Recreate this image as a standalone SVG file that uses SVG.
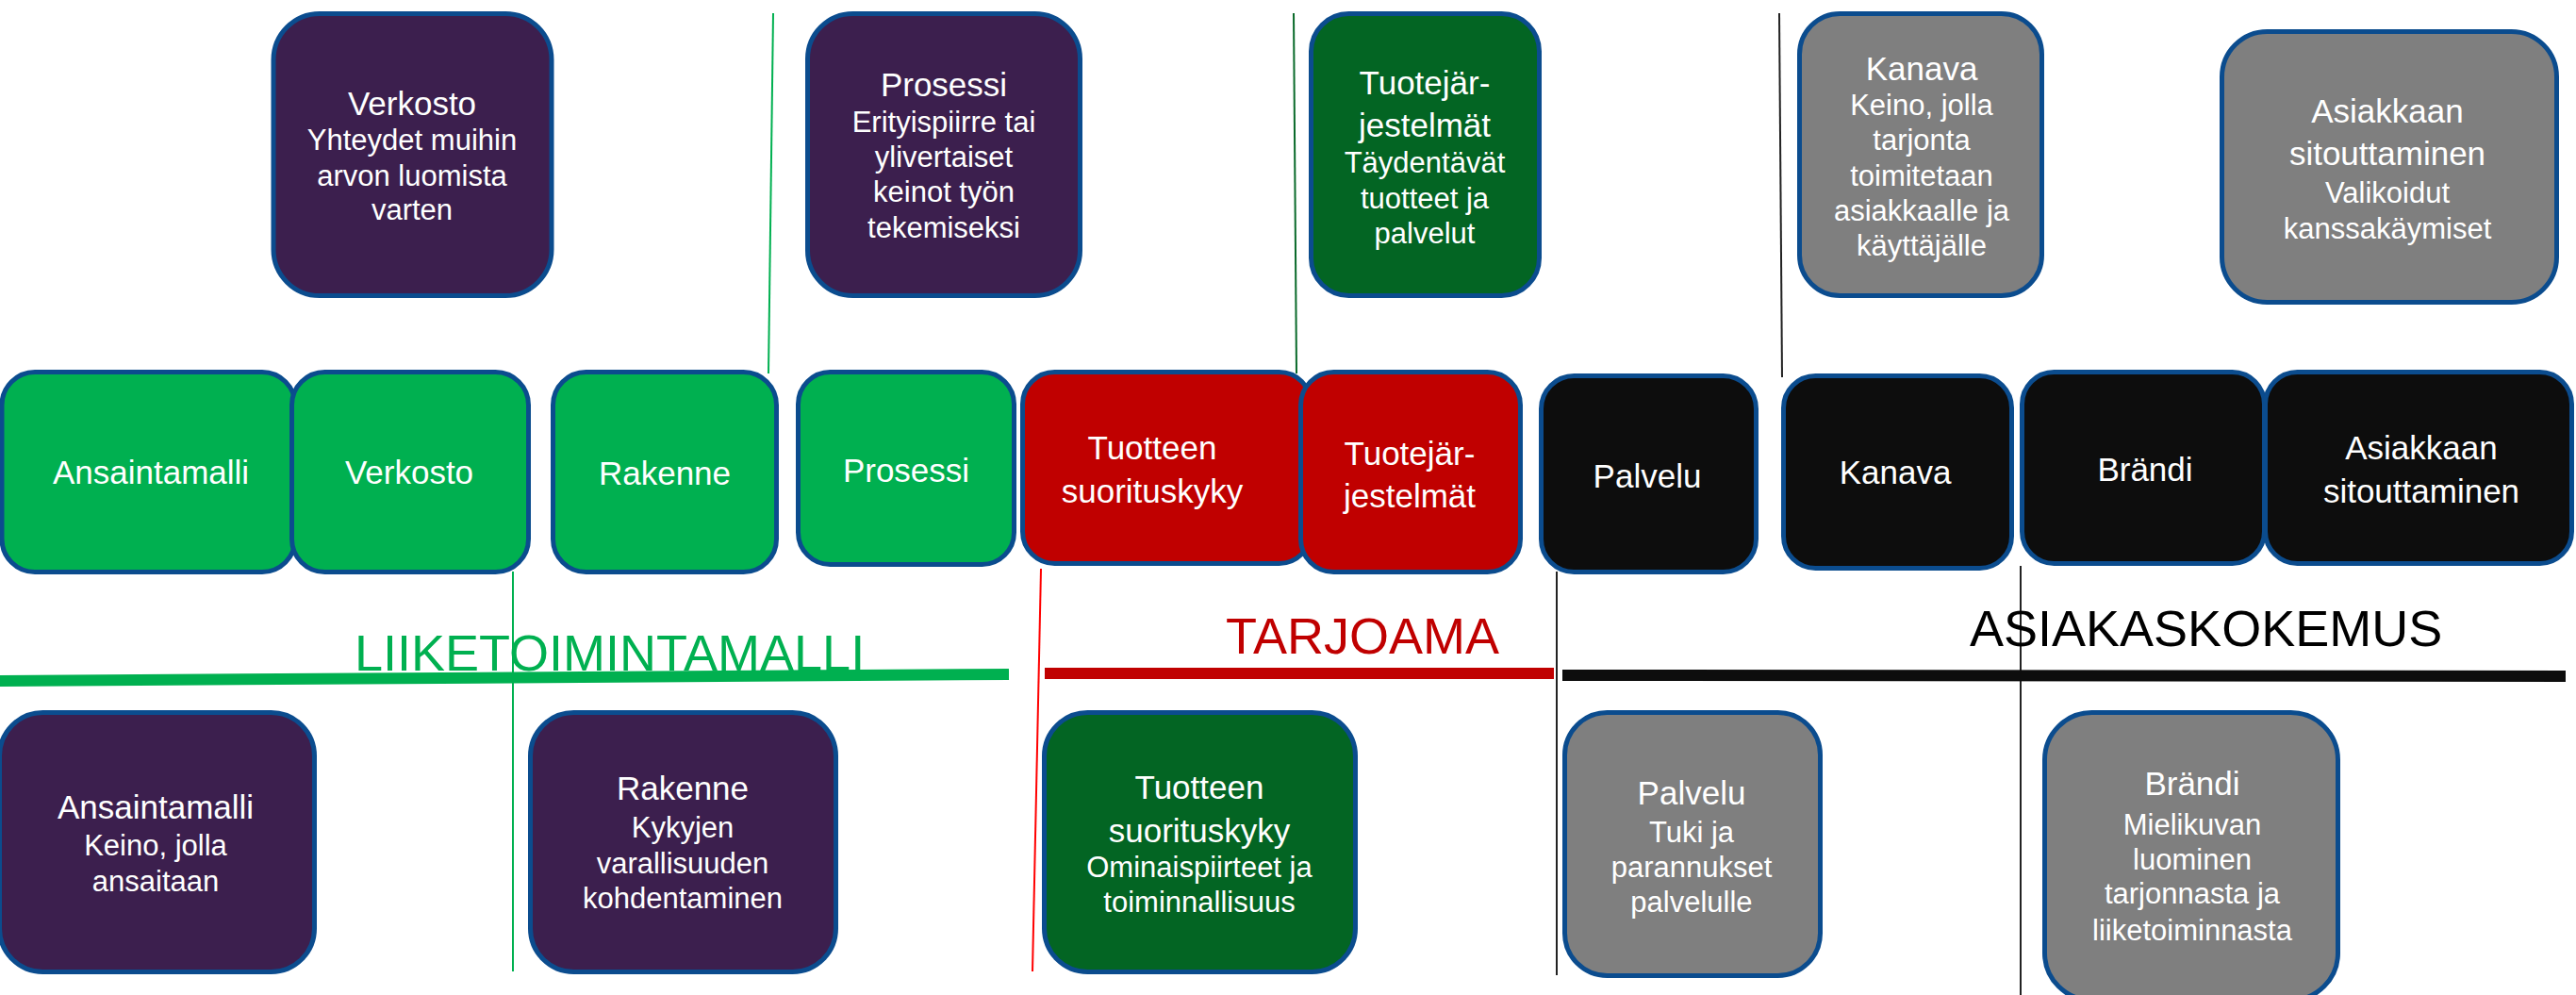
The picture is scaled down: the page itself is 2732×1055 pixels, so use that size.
<svg xmlns="http://www.w3.org/2000/svg" width="2732" height="1055" viewBox="0 0 2732 1055">
<style>
.box{stroke:#0b4c8e;stroke-width:5}
.green{fill:#00b050}
.red{fill:#c00000}
.black{fill:#0d0d0d}
.purple{fill:#3c1f4e}
.dgreen{fill:#036523}
.grey{fill:#7f7f7f}
text{font-family:"Liberation Sans",Arial,sans-serif;fill:#ffffff;text-anchor:middle}
.t{font-size:35px}
.s{font-size:31px}
.hdr{font-size:54px;text-anchor:start}
.vl{fill:none;stroke-width:2}
.bar{fill:none;stroke-width:12}
</style>
<rect width="2732" height="1055" fill="#ffffff"/>
<g id="lines">
  <line class="vl" x1="820" y1="14" x2="815" y2="396" stroke="#00b050"/>
  <line class="vl" x1="1372" y1="14" x2="1375" y2="396" stroke="#0a6a2a"/>
  <line class="vl" x1="1887" y1="14" x2="1890" y2="400" stroke="#222222"/>
  <line class="vl" x1="544" y1="606" x2="544" y2="1030" stroke="#00b050"/>
  <line class="vl" x1="1104" y1="603" x2="1095" y2="1030" stroke="#ff0000"/>
  <line class="vl" x1="1651" y1="606" x2="1651" y2="1034" stroke="#222222"/>
  <line class="vl" x1="2143" y1="600" x2="2143" y2="1055" stroke="#222222"/>
  <line class="bar" x1="0" y1="722" x2="1070" y2="715" stroke="#00b050"/>
  <line class="bar" x1="1108" y1="714" x2="1648" y2="714" stroke="#c00000"/>
  <line class="bar" x1="1657" y1="716" x2="2721" y2="717" stroke="#0d0d0d"/>
</g>
<g id="headers">
  <text class="hdr" x="376" y="711" style="fill:#00b050">LIIKETOIMINTAMALLI</text>
  <text class="hdr" x="1300" y="693" style="fill:#c00000">TARJOAMA</text>
  <text class="hdr" x="2089" y="685" style="fill:#000000">ASIAKASKOKEMUS</text>
</g>
<!-- top row -->
<g id="top-verkosto">
  <rect class="box purple" x="290" y="14.5" width="295" height="299" rx="49"/>
  <text class="t" x="437" y="122">Verkosto</text>
  <text class="s" x="437" y="159">Yhteydet muihin</text>
  <text class="s" x="437" y="197">arvon luomista</text>
  <text class="s" x="437" y="233">varten</text>
</g>
<g id="top-prosessi">
  <rect class="box purple" x="856.5" y="14.5" width="289" height="299" rx="48"/>
  <text class="t" x="1001" y="102">Prosessi</text>
  <text class="s" x="1001" y="140">Erityispiirre tai</text>
  <text class="s" x="1001" y="177">ylivertaiset</text>
  <text class="s" x="1001" y="214">keinot työn</text>
  <text class="s" x="1001" y="252">tekemiseksi</text>
</g>
<g id="top-tuotejarjestelmat">
  <rect class="box dgreen" x="1390.5" y="14.5" width="242" height="299" rx="40"/>
  <text class="t" x="1511" y="100">Tuotejär-</text>
  <text class="t" x="1511" y="145">jestelmät</text>
  <text class="s" x="1511" y="183">Täydentävät</text>
  <text class="s" x="1511" y="221">tuotteet ja</text>
  <text class="s" x="1511" y="258">palvelut</text>
</g>
<g id="top-kanava">
  <rect class="box grey" x="1908.5" y="14.5" width="257" height="299" rx="43"/>
  <text class="t" x="2038" y="85">Kanava</text>
  <text class="s" x="2038" y="122">Keino, jolla</text>
  <text class="s" x="2038" y="159">tarjonta</text>
  <text class="s" x="2038" y="197">toimitetaan</text>
  <text class="s" x="2038" y="234">asiakkaalle ja</text>
  <text class="s" x="2038" y="271">käyttäjälle</text>
</g>
<g id="top-asiakkaan">
  <rect class="box grey" x="2356.5" y="33.5" width="355" height="287" rx="48"/>
  <text class="t" x="2532" y="130">Asiakkaan</text>
  <text class="t" x="2532" y="175">sitouttaminen</text>
  <text class="s" x="2532" y="215">Valikoidut</text>
  <text class="s" x="2532" y="253">kanssakäymiset</text>
</g>
<!-- middle row -->
<g id="mid-ansaintamalli">
  <rect class="box green" x="2" y="394.5" width="311" height="212" rx="35"/>
  <text class="t" x="160" y="513">Ansaintamalli</text>
</g>
<g id="mid-verkosto">
  <rect class="box green" x="309.5" y="394.5" width="251" height="212" rx="35"/>
  <text class="t" x="434" y="513">Verkosto</text>
</g>
<g id="mid-rakenne">
  <rect class="box green" x="586.5" y="394.5" width="237" height="212" rx="35"/>
  <text class="t" x="705" y="514">Rakenne</text>
</g>
<g id="mid-prosessi">
  <rect class="box green" x="846.5" y="394.5" width="229" height="204" rx="34"/>
  <text class="t" x="961" y="511">Prosessi</text>
</g>
<g id="mid-tuotteen">
  <rect class="box red" x="1084.5" y="394.5" width="306" height="203" rx="34"/>
  <text class="t" x="1222" y="487">Tuotteen</text>
  <text class="t" x="1222" y="533">suorituskyky</text>
</g>
<g id="mid-tuotejarjestelmat">
  <rect class="box red" x="1379.5" y="394.5" width="233" height="212" rx="35"/>
  <text class="t" x="1495" y="493">Tuotejär-</text>
  <text class="t" x="1495" y="538">jestelmät</text>
</g>
<g id="mid-palvelu">
  <rect class="box black" x="1634.5" y="398.5" width="228" height="208" rx="35"/>
  <text class="t" x="1747" y="517">Palvelu</text>
</g>
<g id="mid-kanava">
  <rect class="box black" x="1891.5" y="398.5" width="242" height="204" rx="34"/>
  <text class="t" x="2010" y="513">Kanava</text>
</g>
<g id="mid-brandi">
  <rect class="box black" x="2144.5" y="394.5" width="257" height="203" rx="34"/>
  <text class="t" x="2275" y="510">Brändi</text>
</g>
<g id="mid-asiakkaan">
  <rect class="box black" x="2402.5" y="394.5" width="325" height="203" rx="34"/>
  <text class="t" x="2568" y="487">Asiakkaan</text>
  <text class="t" x="2568" y="533">sitouttaminen</text>
</g>
<!-- bottom row -->
<g id="bot-ansaintamalli">
  <rect class="box purple" x="-0.5" y="755.5" width="334" height="275" rx="46"/>
  <text class="t" x="165" y="868">Ansaintamalli</text>
  <text class="s" x="165" y="907">Keino, jolla</text>
  <text class="s" x="165" y="945">ansaitaan</text>
</g>
<g id="bot-rakenne">
  <rect class="box purple" x="562.5" y="755.5" width="324" height="275" rx="46"/>
  <text class="t" x="724" y="848">Rakenne</text>
  <text class="s" x="724" y="888">Kykyjen</text>
  <text class="s" x="724" y="926">varallisuuden</text>
  <text class="s" x="724" y="963">kohdentaminen</text>
</g>
<g id="bot-tuotteen">
  <rect class="box dgreen" x="1107.5" y="755.5" width="330" height="275" rx="46"/>
  <text class="t" x="1272" y="847">Tuotteen</text>
  <text class="t" x="1272" y="893">suorituskyky</text>
  <text class="s" x="1272" y="930">Ominaispiirteet ja</text>
  <text class="s" x="1272" y="967">toiminnallisuus</text>
</g>
<g id="bot-palvelu">
  <rect class="box grey" x="1659.5" y="755.5" width="271" height="279" rx="45"/>
  <text class="t" x="1794" y="853">Palvelu</text>
  <text class="s" x="1794" y="893">Tuki ja</text>
  <text class="s" x="1794" y="930">parannukset</text>
  <text class="s" x="1794" y="967">palvelulle</text>
</g>
<g id="bot-brandi">
  <rect class="box grey" x="2168.5" y="755.5" width="311" height="305" rx="50"/>
  <text class="t" x="2325" y="843">Brändi</text>
  <text class="s" x="2325" y="885">Mielikuvan</text>
  <text class="s" x="2325" y="922">luominen</text>
  <text class="s" x="2325" y="958">tarjonnasta ja</text>
  <text class="s" x="2325" y="997">liiketoiminnasta</text>
</g>
</svg>
